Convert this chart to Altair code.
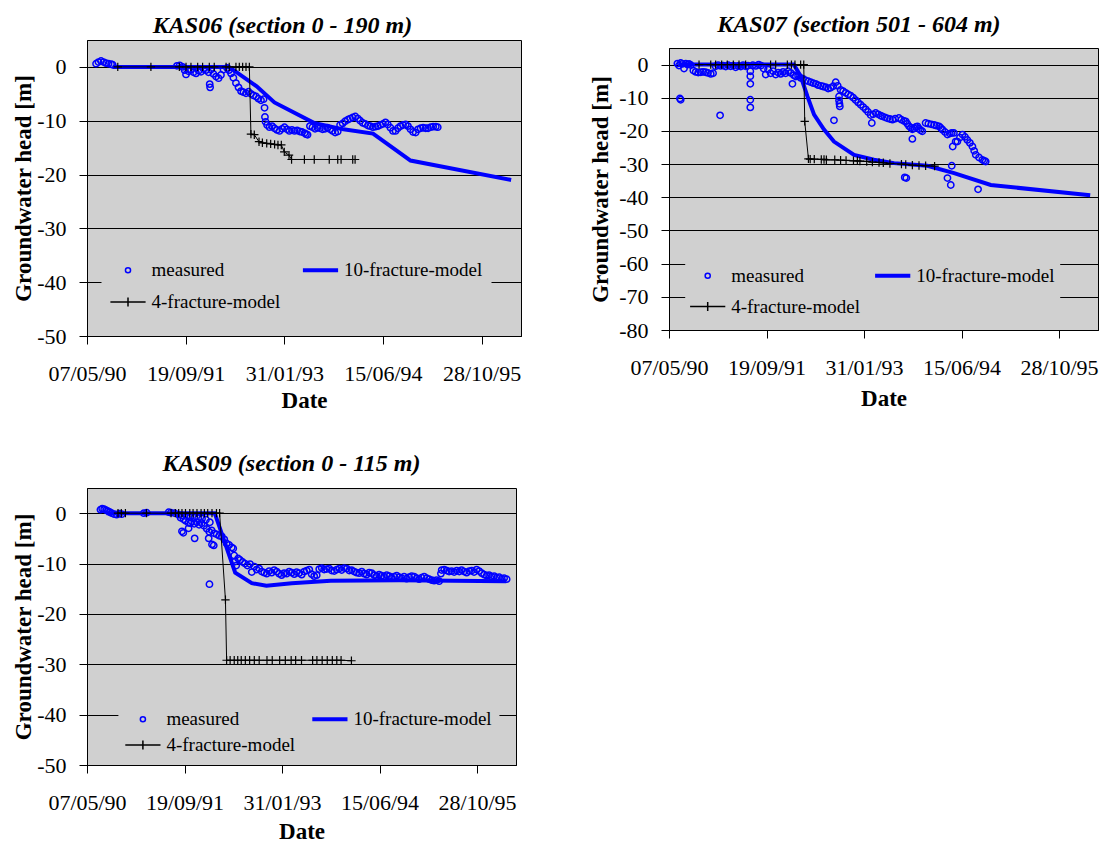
import altair as alt
import pandas as pd

FONT = "'Liberation Serif', 'Times New Roman', Times, Tinos, 'DejaVu Serif', serif"
BLUE = "#0000ff"
BG = "#d0d0d0"
# legend order (filled column by column): measured, 4-fracture (col 1) / 10-fracture (col 2)
SERIES = ["measured", "4-fracture-model", "10-fracture-model"]
# x values are Excel date serials (33000 = 07/05/90)
X_TICKS = [33000, 33500, 34000, 34500, 35000]
X_DOMAIN = [33000, 35200]

# ---------------- KAS06 (section 0 - 190 m) ----------------
KAS06_MEASURED = [
    (33046, 0.6), (33058, 0.9), (33071, 1.1), (33084, 0.9), (33096, 0.7), (33109, 0.6), (33122, 0.5), (33130, 0.4),
    (33456, 0.2), (33470, 0.3), (33485, 0.0), (33495, -0.6), (33502, -1.4), (33515, -0.8), (33527, -0.5), (33540, -1.0),
    (33553, -1.2), (33566, -0.7), (33578, -0.9), (33591, -0.4), (33603, -0.6), (33616, -1.0), (33622, -3.2), (33624, -3.8),
    (33629, -0.5), (33641, -1.3), (33654, -1.8), (33667, -2.1), (33679, -1.5), (33692, -0.5), (33710, -0.2), (33720, -0.6),
    (33730, -1.2), (33742, -2.0), (33755, -3.0), (33768, -3.8), (33781, -4.5), (33793, -4.7), (33806, -4.9), (33819, -4.6),
    (33831, -5.0), (33844, -5.3), (33857, -5.5), (33869, -5.9), (33882, -6.2), (33895, -6.0), (33900, -7.6), (33902, -9.3),
    (33905, -10.2), (33913, -10.8), (33925, -11.2), (33938, -11.0), (33950, -11.4), (33963, -11.7), (33976, -11.9),
    (33989, -11.5), (34001, -11.2), (34014, -11.6), (34026, -11.9), (34039, -11.7), (34052, -11.9),
    (34065, -11.8), (34078, -12.0), (34090, -12.1), (34103, -12.3), (34110, -12.5), (34118, -12.6), (34130, -11.0),
    (34143, -11.2), (34156, -11.5), (34168, -11.3), (34181, -11.4), (34194, -11.6), (34207, -11.5), (34219, -11.3),
    (34232, -11.6), (34245, -11.9), (34258, -12.2), (34271, -12.0), (34283, -10.8), (34296, -10.5), (34309, -10.1),
    (34322, -9.8), (34334, -9.6), (34347, -9.4), (34360, -9.2), (34373, -9.6), (34385, -10.0), (34398, -10.4),
    (34411, -10.6), (34424, -10.9), (34436, -11.0), (34449, -11.2), (34462, -11.1), (34474, -11.0), (34487, -10.8),
    (34500, -10.6), (34513, -10.3), (34525, -10.7), (34538, -11.3), (34551, -11.9), (34564, -11.9), (34576, -11.4),
    (34589, -11.0), (34602, -10.8), (34615, -10.7), (34627, -11.0), (34640, -11.6), (34653, -12.1), (34666, -12.2),
    (34678, -11.6), (34691, -11.4), (34704, -11.3), (34717, -11.4), (34729, -11.4), (34742, -11.2), (34755, -11.1),
    (34768, -11.1), (34778, -11.2),
]
KAS06_MODEL10 = [
    (33130, 0.0), (33450, 0.0), (33720, 0.0), (33860, -3.6), (33950, -6.6), (34150, -10.4),
    (34300, -11.6), (34450, -12.4), (34640, -17.4), (35150, -21.0),
]
KAS06_MODEL4 = [
    (33156, 0.0), (33324, 0.0), (33468, 0.0), (33502, 0.0), (33527, 0.0), (33561, 0.0), (33586, 0.0), (33620, 0.0),
    (33645, 0.0), (33705, 0.0), (33721, 0.0), (33755, 0.0), (33772, 0.0), (33789, 0.0), (33806, 0.0), (33823, 0.0),
    (33831, -12.5), (33848, -12.6), (33872, -13.9), (33889, -14.1), (33911, -14.2), (33931, -14.3), (33951, -14.4),
    (33968, -14.5), (33985, -14.5), (34000, -15.8), (34024, -16.4), (34037, -17.2), (34102, -17.2), (34152, -17.2),
    (34228, -17.2), (34271, -17.2), (34288, -17.2), (34347, -17.2), (34359, -17.2),
]

# ---------------- KAS07 (section 501 - 604 m) ----------------
KAS07_MEASURED = [
    (33043, 0.3), (33051, -0.3), (33056, -10.2), (33060, -10.6), (33060, 0.5), (33068, 0.2), (33077, -1.2),
    (33086, 0.3), (33095, 0.0), (33103, 0.2), (33111, -0.1),
    (33125, -1.8), (33137, -2.2), (33150, -2.4), (33163, -2.3), (33175, -2.2), (33188, -2.3), (33200, -2.5),
    (33214, -2.8), (33226, -2.6),
    (33239, -0.5), (33252, -0.2), (33262, -15.3), (33265, -0.4), (33278, -0.3), (33291, -0.6), (33304, -0.2),
    (33316, -0.5), (33330, -0.3), (33342, -0.8), (33355, -0.4), (33368, -0.6), (33380, -0.2), (33393, -0.5),
    (33405, -0.3), (33417, -2.0), (33417, -3.5), (33417, -5.8), (33417, -10.6), (33417, -12.9),
    (33430, -0.2), (33445, -0.4), (33460, 0.0), (33472, -0.3), (33485, -1.2), (33496, -3.0), (33508, -1.5),
    (33521, -2.6), (33534, -2.0), (33547, -3.0), (33560, -2.4), (33573, -2.8), (33585, -2.2), (33598, -2.6),
    (33611, -2.0), (33624, -2.5), (33633, -5.8),
    (33640, -3.2), (33650, -3.6), (33662, -3.4), (33675, -4.0), (33688, -4.3), (33701, -4.8), (33714, -5.0),
    (33727, -5.3), (33740, -5.6), (33752, -5.8), (33765, -6.2), (33778, -6.4), (33790, -6.6), (33804, -6.8),
    (33816, -7.2), (33829, -7.0), (33842, -6.5), (33846, -16.8), (33855, -5.3), (33865, -6.4),
    (33872, -9.6), (33872, -10.8), (33874, -11.8), (33876, -12.6),
    (33880, -7.6), (33893, -8.0), (33906, -8.5), (33919, -9.0), (33932, -9.4), (33945, -10.0), (33957, -10.7),
    (33970, -11.4), (33983, -12.1), (33996, -12.8), (34009, -13.5), (34021, -14.3), (34034, -15.2), (34040, -17.6),
    (34047, -15.0),
    (34060, -14.6), (34073, -15.0), (34086, -15.4), (34094, -15.6), (34107, -15.9), (34120, -16.2), (34133, -16.4),
    (34146, -16.6), (34160, -16.3), (34179, -16.1), (34192, -16.6), (34205, -17.0), (34214, -17.1), (34209, -34.0),
    (34217, -34.2), (34222, -17.8), (34231, -18.6), (34240, -19.0), (34248, -19.5), (34248, -22.4), (34258, -19.2),
    (34266, -18.8), (34274, -18.6), (34282, -19.3), (34290, -19.8), (34299, -20.1),
    (34316, -17.6), (34330, -17.8), (34345, -18.0), (34360, -18.2), (34372, -18.4), (34385, -18.6), (34394, -19.1),
    (34402, -19.6), (34415, -20.3), (34428, -21.1), (34428, -34.2), (34440, -20.8), (34450, -20.6), (34461, -20.6),
    (34455, -24.7), (34445, -36.3), (34450, -30.5), (34470, -23.2), (34479, -23.2), (34492, -22.0), (34505, -21.1),
    (34518, -21.8), (34530, -22.7), (34543, -23.6), (34556, -24.7), (34565, -26.0), (34573, -27.2), (34585, -37.6),
    (34590, -28.0), (34607, -28.7), (34616, -29.0), (34624, -29.2),
]
KAS07_MODEL10 = [
    (33060, 0.0), (33640, 0.0), (33675, -3.5), (33710, -9.6), (33744, -15.1), (33795, -19.6), (33846, -23.2),
    (33949, -27.2), (34051, -28.7), (34154, -29.7), (34325, -30.5), (34462, -32.7), (34650, -36.3), (35160, -39.4),
]
KAS07_MODEL4 = [
    (33154, 0.0), (33214, 0.0), (33239, 0.0), (33270, 0.0), (33299, 0.0), (33330, 0.0), (33359, 0.0), (33393, 0.0),
    (33521, 0.0), (33547, 0.0), (33607, 0.0), (33628, 0.0), (33646, 0.0), (33675, 0.0), (33691, 0.0),
    (33696, -17.1), (33715, -28.4),
    (33724, -28.5), (33745, -28.5), (33781, -28.6), (33795, -28.6), (33807, -28.7), (33850, -28.7), (33880, -28.8),
    (33908, -28.9), (33946, -29.0), (33966, -29.0), (33979, -29.1), (34014, -29.2), (34043, -29.4), (34077, -29.5),
    (34099, -29.6), (34133, -29.8), (34192, -30.0), (34214, -30.1), (34248, -30.3), (34282, -30.4), (34316, -30.5),
    (34362, -30.6),
]

# ---------------- KAS09 (section 0 - 115 m) ----------------
KAS09_MEASURED = [
    (33069, 0.7), (33078, 0.9), (33088, 0.8), (33098, 0.6), (33108, 0.4), (33118, 0.2), (33127, 0.0), (33140, -0.2),
    (33152, -0.3), (33165, -0.1), (33178, -0.2), (33291, 0.0), (33306, 0.1),
    (33419, 0.2), (33430, 0.1), (33450, 0.0), (33470, -0.3), (33490, -0.5), (33510, -0.6), (33530, -0.8),
    (33550, -0.9), (33570, -1.0), (33590, -1.1), (33610, -1.3), (33630, -1.8),
    (33480, -0.9), (33495, -1.2), (33505, -1.5), (33520, -1.9), (33530, -2.0), (33537, -1.6), (33550, -2.1),
    (33563, -1.8), (33575, -2.3), (33588, -2.0), (33600, -2.5), (33614, -3.1), (33627, -3.7),
    (33487, -3.6), (33494, -3.9), (33521, -3.0), (33552, -5.0), (33624, -5.0), (33628, -14.1), (33641, -6.2),
    (33650, -6.4),
    (33639, -3.4), (33652, -4.0), (33665, -4.2), (33678, -4.5), (33691, -4.6), (33704, -5.2), (33716, -6.0),
    (33729, -6.3), (33742, -6.8), (33750, -7.0), (33755, -8.4), (33760, -9.6), (33765, -10.4), (33775, -9.0),
    (33785, -9.3), (33798, -9.7), (33810, -10.0), (33823, -10.4), (33836, -10.1), (33845, -11.7), (33858, -10.6),
    (33870, -11.2),
    (33883, -11.0), (33896, -11.6), (33909, -11.8), (33922, -12.0), (33934, -11.5), (33947, -11.8), (33960, -11.3),
    (33973, -11.6), (33985, -12.0), (33998, -12.3), (34011, -11.9), (34024, -12.0), (34037, -11.6), (34050, -11.8),
    (34063, -12.1), (34075, -11.7), (34088, -11.9), (34101, -12.2), (34114, -11.6), (34127, -11.4), (34140, -11.2),
    (34152, -12.1), (34165, -12.5), (34178, -12.3), (34191, -11.1), (34204, -10.9), (34216, -11.2), (34229, -11.1),
    (34242, -11.0), (34255, -11.4), (34268, -11.5), (34281, -11.2), (34294, -11.0), (34306, -11.3), (34319, -10.9),
    (34332, -11.0), (34345, -11.4), (34357, -11.3), (34370, -11.6), (34383, -11.8), (34396, -11.9), (34409, -11.6),
    (34421, -12.0), (34434, -12.2), (34447, -11.8), (34460, -11.9), (34473, -12.3), (34486, -12.5), (34498, -12.2),
    (34511, -12.4), (34524, -12.6), (34537, -12.3), (34550, -12.5), (34562, -12.8), (34575, -12.6), (34588, -12.4),
    (34601, -12.7), (34614, -12.9), (34626, -12.6), (34639, -13.0), (34652, -12.7), (34665, -12.5), (34678, -12.6),
    (34691, -12.9), (34703, -13.1), (34716, -12.8), (34729, -12.6), (34742, -12.9), (34755, -13.1), (34768, -13.3),
    (34780, -13.4), (34793, -13.3), (34806, -13.5), (34815, -12.0), (34819, -11.3), (34832, -11.2), (34845, -11.4),
    (34857, -11.6), (34870, -11.5), (34883, -11.7), (34896, -11.4), (34909, -11.6), (34921, -11.3), (34934, -11.6),
    (34947, -11.8), (34960, -11.5), (34973, -11.4), (34985, -11.7), (34998, -11.2), (35011, -11.5), (35024, -11.9),
    (35037, -12.2), (35050, -12.4), (35062, -12.3), (35075, -12.6), (35088, -12.5), (35101, -12.8), (35114, -12.7),
    (35127, -13.0), (35139, -12.9), (35152, -13.1),
]
KAS09_MODEL10 = [
    (33100, 0.0), (33655, 0.0), (33760, -11.8), (33845, -13.9), (33920, -14.4), (34050, -13.9), (34250, -13.4),
    (34600, -13.3), (35150, -13.5),
]
KAS09_MODEL4 = [
    (33159, 0.0), (33176, 0.0), (33197, 0.0), (33305, 0.0), (33431, 0.0), (33453, 0.0), (33470, 0.0), (33487, 0.0),
    (33505, 0.0), (33527, 0.0), (33544, 0.0), (33564, 0.0), (33585, 0.0), (33602, 0.0), (33619, 0.0), (33641, 0.0),
    (33664, 0.0), (33680, 0.0), (33710, -17.2),
    (33716, -29.2), (33734, -29.2), (33755, -29.2), (33773, -29.2), (33791, -29.2), (33812, -29.2), (33834, -29.2),
    (33858, -29.2), (33883, -29.2), (33923, -29.2), (33950, -29.2), (33988, -29.2), (34017, -29.2), (34047, -29.2),
    (34070, -29.2), (34100, -29.2), (34157, -29.2), (34179, -29.2), (34206, -29.2), (34232, -29.2), (34258, -29.2),
    (34281, -29.2), (34303, -29.2), (34356, -29.3),
]

# legend symbols (custom paths, unit = half of sqrt(symbolSize))
SYM_CIRCLE = "M0.32,0A0.32,0.32,0,1,1,-0.32,0A0.32,0.32,0,1,1,0.32,0Z"
SYM_THICK = "M-2.2,-0.15H2.2M-2.2,0H2.2M-2.2,0.15H2.2"
SYM_PLUSLINE = "M-2.2,0H2.2M0,-0.55V0.55"
PLUS = "M-1,0H1M0,-1V1"

XLAB = "timeFormat(datetime(1990, 4, 7 + datum.value - 33000), '%d/%m/%y')"


def make_legend(lx, ly, pad, rowpad, colpad):
    return alt.Legend(
        title=None, orient="none", legendX=lx, legendY=ly, columns=2,
        fillColor=BG, padding=pad, rowPadding=rowpad, columnPadding=colpad,
        symbolSize=256, symbolStrokeWidth=1.5, symbolOffset=8, labelOffset=14,
        labelFont=FONT, labelFontSize=19, labelColor="black", labelLimit=0,
    )


def title_params(text, dx, offset, frame="group"):
    return alt.TitleParams(text=text, font=FONT, fontSize=24, fontWeight="bold", fontStyle="italic",
                           color="black", anchor="middle", frame=frame, dx=dx, offset=offset)


def panel(meas, m10, m4, ydom, yvals, w, h, ytitle_x, xtitle_y, leg):
    x = alt.X(
        "day:Q", title="Date",
        scale=alt.Scale(domain=X_DOMAIN, nice=False, zero=False),
        axis=alt.Axis(values=X_TICKS, labelExpr=XLAB, grid=False, tickSize=8, labelPadding=36,
                      labelBaseline="alphabetic", labelOverlap=False, labelFlush=False,
                      titleX=w / 2, titleY=xtitle_y, titleBaseline="alphabetic", titleAlign="center"),
    )
    y = alt.Y(
        "head:Q", title="Groundwater head [m]",
        scale=alt.Scale(domain=ydom, nice=False, zero=False),
        axis=alt.Axis(values=yvals, labelExpr="'' + datum.value", grid=True, tickSize=8, labelPadding=13,
                      labelOverlap=False, labelFlush=False,
                      titleX=ytitle_x, titleY=h / 2, titleBaseline="middle", titleAlign="center",
                      titleAngle=270),
    )
    meas_df = pd.DataFrame(meas, columns=["day", "head"])
    m10_df = pd.DataFrame(m10, columns=["day", "head"])
    m4_df = pd.DataFrame(m4, columns=["day", "head"])
    leg_df = pd.DataFrame({"series": SERIES, "day": [None] * 3, "head": [None] * 3})

    l_meas = alt.Chart(meas_df).mark_point(
        shape="circle", filled=False, size=40, strokeWidth=1.5, color=BLUE, opacity=1
    ).encode(x=x, y=y)
    l_m10 = alt.Chart(m10_df).mark_line(color=BLUE, strokeWidth=4).encode(x=x, y=y)
    l_m4 = alt.Chart(m4_df).mark_line(
        color="black", strokeWidth=1,
        point=alt.OverlayMarkDef(shape=PLUS, size=70, filled=False, color="black", strokeWidth=1.2, opacity=1),
    ).encode(x=x, y=y)
    l_leg = alt.Chart(leg_df).mark_point(filled=False, strokeWidth=1.5, opacity=1).encode(
        x=x, y=y,
        color=alt.Color("series:N", scale=alt.Scale(domain=SERIES, range=[BLUE, "black", BLUE]), legend=leg),
        shape=alt.Shape("series:N", scale=alt.Scale(domain=SERIES, range=[SYM_CIRCLE, SYM_PLUSLINE, SYM_THICK]),
                        legend=leg),
    )
    return alt.layer(l_meas, l_m10, l_m4, l_leg).properties(width=w, height=h)


p1 = panel(KAS06_MEASURED, KAS06_MODEL10, KAS06_MODEL4,
           [-50, 5], [0, -10, -20, -30, -40, -50], 434, 296, -63.6, 71,
           make_legend(14.5, 211.5, 9, 12, 18.5)).properties(
    title=title_params("KAS06 (section 0 - 190 m)", -21.5, 2.4))

p2 = panel(KAS07_MEASURED, KAS07_MODEL10, KAS07_MODEL4,
           [-80, 5], [0, -10, -20, -30, -40, -50, -60, -70, -80], 429, 282, -68.3, 75,
           make_legend(16.2, 213, 5, 11, 11))

# invisible spacer that lowers the KAS07 plot area relative to its title
spacer = alt.Chart(pd.DataFrame({"v": [0]})).mark_point(opacity=0).properties(
    width=10, height=6.4, view=alt.ViewBackground(fill="transparent", stroke="transparent"))

p2_block = alt.vconcat(spacer, p2, spacing=0).resolve_scale(
    color="independent", shape="independent").resolve_legend(
    color="independent", shape="independent").properties(
    title=title_params("KAS07 (section 501 - 604 m)", 15, 2.4, frame="bounds"))

p3 = panel(KAS09_MEASURED, KAS09_MODEL10, KAS09_MODEL4,
           [-50, 5], [0, -10, -20, -30, -40, -50], 429, 277, -63.6, 73,
           make_legend(31.4, 214.5, 7, 6, 13)).properties(
    title=title_params("KAS09 (section 0 - 115 m)", -10, 12.4))

chart = alt.concat(
    p1, p2_block, p3, columns=2, align="none", spacing={"row": 38, "column": 67}
).resolve_scale(color="independent", shape="independent").resolve_legend(
    color="independent", shape="independent")

chart = chart.properties(
    padding={"left": 11, "top": 13, "right": 0, "bottom": 0}, background="white"
).configure_view(
    fill=BG, stroke="black", strokeWidth=1
).configure_axis(
    domainColor="black", domainWidth=1, tickColor="black", tickWidth=1, gridColor="black", gridWidth=1,
    gridOpacity=1, labelFont=FONT, labelFontSize=22, labelColor="black", titleFont=FONT, titleFontSize=23,
    titleFontWeight="bold", titleColor="black",
)

chart.save("out.html", embed_options={"renderer": "svg", "actions": False})
